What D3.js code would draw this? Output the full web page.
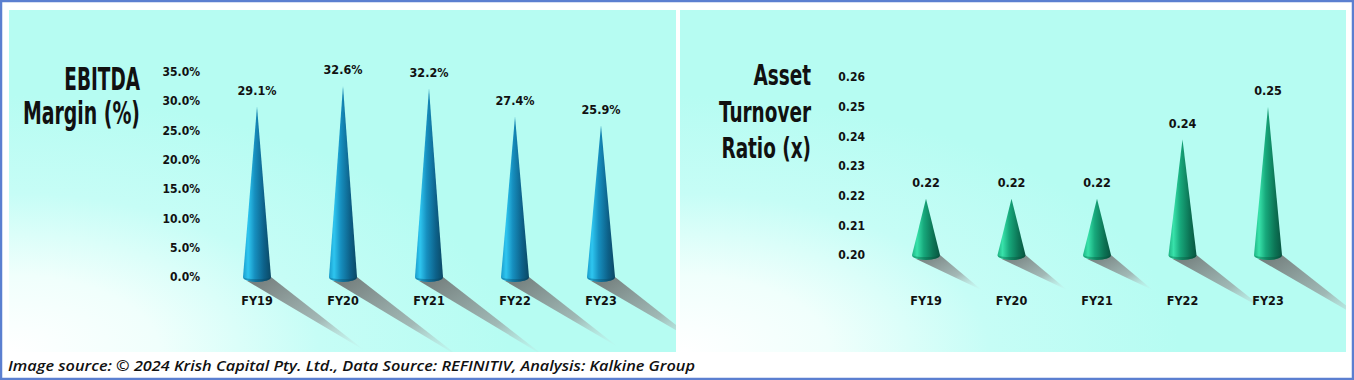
<!DOCTYPE html>
<html>
<head>
<meta charset="utf-8">
<script src="https://cdn.jsdelivr.net/npm/d3@7"></script>
<style>
  body { margin: 0; background: #fff; }
  svg { display: block; }
  .tick-label, .value-label, .cat-label { font-family: "DejaVu Sans Condensed", "Liberation Sans", sans-serif; font-weight: bold; fill: #111; }
  .title { font-family: "DejaVu Sans Condensed", "Liberation Sans", sans-serif; font-weight: bold; fill: #111; }
  .caption { font-family: "Open Sans", "Liberation Sans", sans-serif; font-style: italic; font-weight: 600; fill: #111; }
</style>
</head>
<body>
<div id="chart"></div>
<script>
var years = ["FY19", "FY20", "FY21", "FY22", "FY23"];
var ebitdaMargin = [29.1, 32.6, 32.2, 27.4, 25.9];
var ebitdaTicks = [0, 5, 10, 15, 20, 25, 30, 35];
var assetTurnover = [0.219, 0.219, 0.219, 0.239, 0.250];
var turnoverTicks = [0.20, 0.21, 0.22, 0.23, 0.24, 0.25, 0.26];

var width = 1354,
    height = 380;

var svg = d3.select("#chart")
    .append("svg")
    .attr("width", width)
    .attr("height", height);

var defs = svg.append("defs");

// panel background: cyan with a white glow in the lower left corner
var bg = defs.append("radialGradient")
    .attr("id", "bgGrad")
    .attr("cx", 0).attr("cy", 1).attr("r", 0.75)
    .attr("fx", 0).attr("fy", 1);
bg.append("stop").attr("offset", 0).attr("stop-color", "#ffffff");
bg.append("stop").attr("offset", 0.3).attr("stop-color", "#f0fffc");
bg.append("stop").attr("offset", 0.62).attr("stop-color", "#c6fdf6");
bg.append("stop").attr("offset", 1).attr("stop-color", "#b6fcf2");

function coneGradient(id, stops) {
    var g = defs.append("linearGradient")
        .attr("id", id)
        .attr("x1", 0).attr("y1", 0).attr("x2", 1).attr("y2", 0);
    stops.forEach(function (s) {
        g.append("stop").attr("offset", s[0]).attr("stop-color", s[1]);
    });
}
coneGradient("blueCone", [[0, "#1a9ccb"], [0.18, "#2ec6f0"], [0.42, "#168fbf"], [0.75, "#0d6189"], [1, "#0a4965"]]);
coneGradient("greenCone", [[0, "#1fb585"], [0.18, "#38e2aa"], [0.42, "#17a87b"], [0.75, "#0c7455"], [1, "#085540"]]);
coneGradient("blueBase", [[0, "#137aa3"], [0.5, "#0c5b7e"], [1, "#083f58"]]);
coneGradient("greenBase", [[0, "#129468"], [0.5, "#0b6a4d"], [1, "#064a37"]]);

var sh = defs.append("linearGradient")
    .attr("id", "shadowGrad")
    .attr("x1", 0).attr("y1", 0).attr("x2", 1).attr("y2", 1);
sh.append("stop").attr("offset", 0).attr("stop-color", "#6a706f").attr("stop-opacity", 0.95);
sh.append("stop").attr("offset", 0.6).attr("stop-color", "#98a2a1").attr("stop-opacity", 0.75);
sh.append("stop").attr("offset", 1).attr("stop-color", "#c8dcda").attr("stop-opacity", 0);

// outer frame
svg.append("rect")
    .attr("x", 1).attr("y", 1)
    .attr("width", width - 2).attr("height", height - 2)
    .attr("fill", "#fff")
    .attr("stroke", "#5b7fd0")
    .attr("stroke-width", 2.5);

function drawPanel(opt) {
    var panel = svg.append("g");

    defs.append("clipPath")
        .attr("id", opt.id + "Clip")
        .append("rect")
        .attr("x", opt.px).attr("y", opt.py)
        .attr("width", opt.pw).attr("height", opt.ph);

    panel.append("rect")
        .attr("x", opt.px).attr("y", opt.py)
        .attr("width", opt.pw).attr("height", opt.ph)
        .attr("fill", "url(#bgGrad)");

    var x = d3.scalePoint().domain(years).range(opt.xRange);
    var y = d3.scaleLinear().domain(opt.yDomain).range(opt.yRange);

    // y axis: labels only
    panel.selectAll(".tick-label")
        .data(opt.ticks)
        .enter()
        .append("text")
        .attr("class", "tick-label")
        .attr("x", opt.tickX)
        .attr("y", function (d) { return y(d); })
        .attr("dy", "0.35em")
        .attr("text-anchor", "end")
        .style("font-size", "12px")
        .text(opt.tickFormat);

    var base = y(opt.yDomain[0]),
        half = 14,
        ry = 5;

    var cones = panel.selectAll(".cone")
        .data(opt.values)
        .enter()
        .append("g")
        .attr("class", "cone");

    // shadows first
    cones.append("path")
        .attr("clip-path", "url(#" + opt.id + "Clip)")
        .attr("fill", "url(#shadowGrad)")
        .attr("d", function (d, i) {
            var cx = x(years[i]),
                h = base - y(d),
                dx = 16 + 0.46 * h,
                dy = 16 + 0.34 * h;
            return "M" + (cx - half * 0.7) + "," + (base + ry - 1) +
                "L" + (cx + half) + "," + base +
                "L" + (cx + half + dx) + "," + (base + dy) + "Z";
        });

    cones.append("path")
        .attr("fill", "url(#" + opt.color + "Cone)")
        .attr("d", function (d, i) {
            var cx = x(years[i]);
            return "M" + cx + "," + y(d) +
                "L" + (cx + half) + "," + base +
                "A" + half + "," + ry + " 0 0 1 " + (cx - half) + "," + base + "Z";
        });

    cones.append("path")
        .attr("fill", "url(#" + opt.color + "Base)")
        .attr("opacity", 0.55)
        .attr("d", function (d, i) {
            var cx = x(years[i]);
            return "M" + (cx - half) + "," + base +
                "A" + half + "," + ry + " 0 0 0 " + (cx + half) + "," + base +
                "A" + half + "," + (ry * 0.4) + " 0 0 1 " + (cx - half) + "," + base + "Z";
        });

    panel.selectAll(".value-label")
        .data(opt.values)
        .enter()
        .append("text")
        .attr("class", "value-label")
        .attr("x", function (d, i) { return x(years[i]); })
        .attr("y", function (d) { return y(d) - 16; })
        .attr("dy", "0.35em")
        .attr("text-anchor", "middle")
        .style("font-size", "12.5px")
        .text(opt.valueFormat);

    panel.selectAll(".cat-label")
        .data(years)
        .enter()
        .append("text")
        .attr("class", "cat-label")
        .attr("x", function (d) { return x(d); })
        .attr("y", opt.catY)
        .attr("dy", "0.35em")
        .attr("text-anchor", "middle")
        .style("font-size", "12.5px")
        .text(String);

    // tall condensed titles: natural width, stretched vertically
    opt.title.forEach(function (t) {
        panel.append("text")
            .attr("class", "title")
            .attr("transform", "translate(" + opt.titleX + "," + t.y + ") scale(1," + t.sy + ")")
            .attr("text-anchor", "end")
            .style("font-size", t.size + "px")
            .text(t.text);
    });
}

drawPanel({
    id: "left",
    px: 9, py: 10, pw: 667, ph: 342,
    xRange: [257, 601],
    yDomain: [0, 35],
    yRange: [277, 72],
    ticks: ebitdaTicks,
    tickX: 200,
    tickFormat: function (d) { return d3.format(".1f")(d) + "%"; },
    values: ebitdaMargin,
    valueFormat: function (d) { return d3.format(".1f")(d) + "%"; },
    color: "blue",
    catY: 301,
    titleX: 140,
    title: [
        { text: "EBITDA", y: 90, size: 20.5, sy: 1.58 },
        { text: "Margin (%)", y: 124, size: 21, sy: 1.55 }
    ]
});

drawPanel({
    id: "right",
    px: 680, py: 10, pw: 666, ph: 342,
    xRange: [926, 1268],
    yDomain: [0.20, 0.26],
    yRange: [255, 77],
    ticks: turnoverTicks,
    tickX: 865,
    tickFormat: d3.format(".2f"),
    values: assetTurnover,
    valueFormat: d3.format(".2f"),
    color: "green",
    catY: 301,
    titleX: 811,
    title: [
        { text: "Asset", y: 85, size: 20.5, sy: 1.38 },
        { text: "Turnover", y: 122, size: 20.5, sy: 1.38 },
        { text: "Ratio (x)", y: 158, size: 20.5, sy: 1.38 }
    ]
});

svg.append("text")
    .attr("class", "caption")
    .attr("x", 8)
    .attr("y", 371)
    .attr("textLength", 687)
    .attr("lengthAdjust", "spacingAndGlyphs")
    .style("font-size", "14px")
    .text("Image source: \u00a9 2024 Krish Capital Pty. Ltd., Data Source: REFINITIV, Analysis: Kalkine Group");
</script>
</body>
</html>
